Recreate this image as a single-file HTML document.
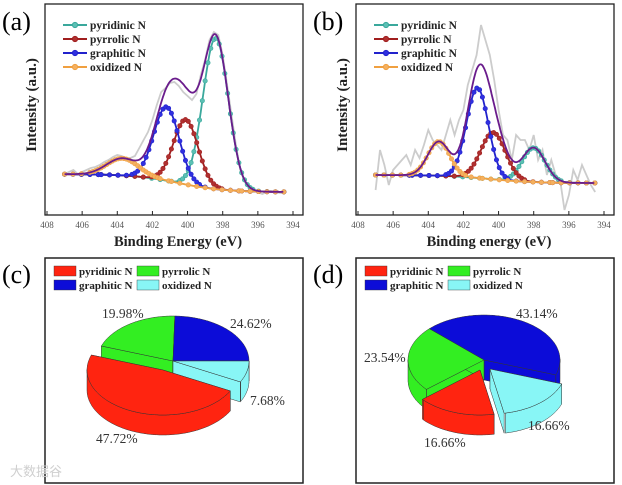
<!DOCTYPE html>
<html><head><meta charset="utf-8"><style>
body{margin:0;background:#fff;width:622px;height:485px;overflow:hidden}
svg{display:block;font-family:"Liberation Serif",serif}
</style></head><body>
<svg id="fig" width="622" height="485" viewBox="0 0 622 485"></svg>
<script>
// ---------- data ----------
const peakNames = ["pyridinic N","pyrrolic N","graphitic N","oxidized N"];
const aCenters = [398.4, 400.1, 401.2, 403.7];
const aHeights = [84, 36, 41, 9.5];
const aSigmas = [0.72, 0.7, 0.72, 0.9];
const aBgLeft = 14.4, aBgRight = 4.4;
const bCenters = [398.0, 400.3, 401.2, 403.4];
const bHeights = [19, 26, 50, 19];
const bSigmas = [0.65, 0.7, 0.62, 0.62];
const bBgLeft = 13.9, bBgRight = 9.4;
const rawEnergies = [407,406.75,406.5,406.25,406,405.75,405.5,405.25,405,404.75,404.5,404.25,404,403.75,403.5,403.25,403,402.75,402.5,402.25,402,401.75,401.5,401.25,401,400.75,400.5,400.25,400,399.75,399.5,399.25,399,398.75,398.5,398.25,398,397.75,397.5,397.25,397,396.75,396.5,396.25,396,395.75,395.5,395.25,395,394.75,394.5];
const aRaw = [26,28,30,26,28,30,32,33,35,38,40,43,45,44,42,42,44,52,60,68,80,95,108,112,117,118,114,108,104,100,106,125,140,160,168,165,145,115,85,55,30,18,12,10,8,6,8,9,8,7,7];
const bRaw = [10,50,35,15,30,35,40,45,35,50,42,55,70,60,55,50,65,80,65,80,90,115,130,145,175,160,145,120,90,65,60,40,65,60,60,50,65,40,50,25,40,25,20,-10,5,30,20,35,25,15,8];
const pieLabels = ["pyridinic N","pyrrolic N","graphitic N","oxidized N"];
const cValues = [47.72, 19.98, 24.62, 7.68];
const dValues = [16.66, 23.54, 43.14, 16.66];
const cTexts = ["47.72%","19.98%","24.62%","7.68%"];
const dTexts = ["16.66%","23.54%","43.14%","16.66%"];
const xTicks = [408,406,404,402,400,398,396,394];

const NS="http://www.w3.org/2000/svg";
const svg=document.getElementById('fig');
function el(tag,attrs,parent,text){const e=document.createElementNS(NS,tag);for(const k in attrs)e.setAttribute(k,attrs[k]);if(text!==undefined)e.textContent=text;(parent||svg).appendChild(e);return e;}
const lineCols=["#3aa89c","#a01e1e","#2222cc","#f0a040"];
const markCols=["#5cc0b4","#b03030","#3030e0","#f4b060"];

function xpsPanel(ox,label,xTitle,centers,heights,sigmas,bgL,bgR,raw,name){
  const g=el('g',{},svg);
  
  
  const L=ox+45,R=ox+303,T=4,B=215;
  const xs=e=>ox+47+(408-e)*(246/14);
  const ys=v=>200-v*1.8;
  const bg=e=>bgR+(bgL-bgR)/(1+Math.exp(-(e-400.5)/1.3));
  const gauss=(i,e)=>heights[i]*Math.exp(-((e-centers[i])**2)/(2*sigmas[i]**2));
  const lbl=el('text',{x:ox+2,y:30,'font-size':26},g,label);
  
  const box=el('rect',{x:L,y:T,width:R-L,height:B-T,fill:'none',stroke:'#222','stroke-width':1.3},g);
  
  xTicks.forEach(t=>{
    const x=xs(t);
    el('line',{x1:x,x2:x,y1:B,y2:B-4,stroke:'#222'},g);
    const tl=el('text',{x:x,y:228,'font-size':9,'text-anchor':'middle',fill:'#555'},g,t);
    
  });
  const xt=el('text',{x:(L+R)/2+4,y:246,'font-size':14.5,'font-weight':'bold','text-anchor':'middle',fill:'#222'},g,xTitle);
  
  const yt=el('text',{x:0,y:0,'font-size':15,'font-weight':'bold','text-anchor':'middle',fill:'#222',transform:`translate(${ox+36},105) rotate(-90)`},g,'Intensity (a.u.)');
  
  let d='';raw.forEach((v,i)=>{d+=(i?'L':'M')+xs(rawEnergies[i]).toFixed(1)+','+(200-v).toFixed(1);});
  const rp=el('path',{d:d,fill:'none',stroke:'#cccccc','stroke-width':1.8},g);
  
  const Es=[];for(let e=407;e>=394.5;e-=0.05)Es.push(e);
  let bd='';Es.forEach((e,i)=>{bd+=(i?'L':'M')+xs(e).toFixed(1)+','+ys(bg(e)).toFixed(1);});
  const bp=el('path',{d:bd,fill:'none',stroke:'#44cc44','stroke-width':1.5},g);
  
  for(let i=0;i<4;i++){
    let cd='';Es.forEach((e,k)=>{cd+=(k?'L':'M')+xs(e).toFixed(1)+','+ys(bg(e)+gauss(i,e)).toFixed(1);});
    const cp=el('path',{d:cd,fill:'none',stroke:lineCols[i],'stroke-width':1.8},g);
    
    
    for(let e=407;e>=394.5;e-=0.16){
      if(gauss(i,e)<0.8 && Math.round(e*6)%3)continue;
      el('circle',{cx:xs(e),cy:ys(bg(e)+gauss(i,e)),r:2.2,fill:markCols[i],stroke:lineCols[i],'stroke-width':0.6},g);
    }
  }
  let ed='';Es.forEach((e,k)=>{let s=bg(e);for(let i=0;i<4;i++)s+=gauss(i,e);ed+=(k?'L':'M')+xs(e).toFixed(1)+','+ys(s).toFixed(1);});
  const ep=el('path',{d:ed,fill:'none',stroke:'#6a1c8c','stroke-width':1.8},g);
  
  peakNames.forEach((n,i)=>{
    const y=25+i*14;
    const lg=el('g',{},g);
    
    el('line',{x1:ox+63,x2:ox+87,y1:y,y2:y,stroke:lineCols[i],'stroke-width':2},lg);
    el('circle',{cx:ox+75,cy:y,r:2.6,fill:markCols[i],stroke:lineCols[i]},lg);
    el('text',{x:ox+90,y:y+4,'font-size':11.5,'font-weight':'bold',fill:'#222'},lg,n);
  });
}
xpsPanel(0,'(a)','Binding Energy (eV)',aCenters,aHeights,aSigmas,aBgLeft,aBgRight,aRaw,'xps-panel-a');
xpsPanel(311,'(b)','Binding energy (eV)',bCenters,bHeights,bSigmas,bBgLeft,bBgRight,bRaw,'xps-panel-b');

// ---------- pies ----------
const pieCols=["#ff2410","#33ee22","#0c0cd8","#88f6f6"];
function piePanel(ox,label,values,texts,startAng,order,offsets,cx,cy,textPos,name){
  const g=el('g',{},svg);
  
  const lbl=el('text',{x:ox+2,y:283,'font-size':26},g,label);
  
  const box=el('rect',{x:ox+45,y:258,width:258,height:225,fill:'none',stroke:'#222','stroke-width':1.5},g);
  
  pieLabels.forEach((n,i)=>{
    const col=i%2,row=Math.floor(i/2);
    const lg=el('g',{},g);
    
    const bx=ox+54+col*83,by=266+row*14;
    el('rect',{x:bx,y:by,width:22,height:10,fill:pieCols[i],stroke:'#333','stroke-width':0.4},lg);
    el('text',{x:bx+25,y:by+9,'font-size':11,'font-weight':'bold',fill:'#222'},lg,n);
  });
  const rx=76,ry=45,dep=20,tot=values.reduce((a,b)=>a+b,0);
  let a=startAng;const slices=[];
  order.forEach(i=>{const sw=values[i]/tot*360;slices.push({i:i,s:a,e:a+sw});a+=sw;});
  const rad=x=>x*Math.PI/180;
  slices.forEach(s=>{const m=rad((s.s+s.e)/2);s.key=Math.sin(m);});
  slices.sort((p,q)=>p.key-q.key);
  slices.forEach(s=>{
    const [dx,dy]=offsets[s.i];const X=cx+dx,Y=cy+dy;
    const P=(ang,h)=>[X+rx*Math.cos(rad(ang)),Y+ry*Math.sin(rad(ang))+h];
    const sg=el('g',{},g);
    
    
    const st={fill:pieCols[s.i],stroke:'#333','stroke-width':0.5};
    [s.s,s.e].forEach(ang=>{
      const p=P(ang,0),q=P(ang,dep);
      el('path',Object.assign({d:`M${X},${Y}L${p[0]},${p[1]}L${q[0]},${q[1]}L${X},${Y+dep}Z`},st),sg);
    });
    const pts=[];for(let t=s.s;t<=s.e+0.01;t+=1){if(Math.sin(rad(t))>-0.02)pts.push(t);}
    if(pts.length>1){
      let d='';pts.forEach((t,k)=>{const p=P(t,0);d+=(k?'L':'M')+p[0].toFixed(1)+','+p[1].toFixed(1);});
      pts.slice().reverse().forEach(t=>{const p=P(t,dep);d+='L'+p[0].toFixed(1)+','+p[1].toFixed(1);});
      el('path',Object.assign({d:d+'Z'},st),sg);
    }
    let d=`M${X},${Y}`;for(let t=s.s;t<=s.e+0.01;t+=1){const p=P(Math.min(t,s.e),0);d+='L'+p[0].toFixed(1)+','+p[1].toFixed(1);}
    const pe=P(s.e,0);d+='L'+pe[0]+','+pe[1]+'Z';
    el('path',Object.assign({d:d},st),sg);
  });
  texts.forEach((t,i)=>{
    const tx=el('text',{x:textPos[i][0],y:textPos[i][1],'font-size':13.5,fill:'#333'},g,t);
    
  });
}
piePanel(0,'(c)',cValues,cTexts,-88.6,[2,3,0,1],[[-10,9],[0,0],[0,0],[0,0]],173,361,
  [[96,443],[102,318],[230,328],[250,405]],'pie-chart-c');
piePanel(311,'(d)',dValues,dTexts,-136,[2,3,0,1],[[-4,10],[0,0],[0,0],[6,9]],484,360,
  [[424,447],[364,362],[516,318],[528,430]],'pie-chart-d');
const wm=el('text',{x:10,y:476,'font-size':13,fill:'#cfcfcf','font-family':'"Liberation Sans","Noto Sans CJK SC",sans-serif'},svg,'大数据谷');

</script>
</body></html>
